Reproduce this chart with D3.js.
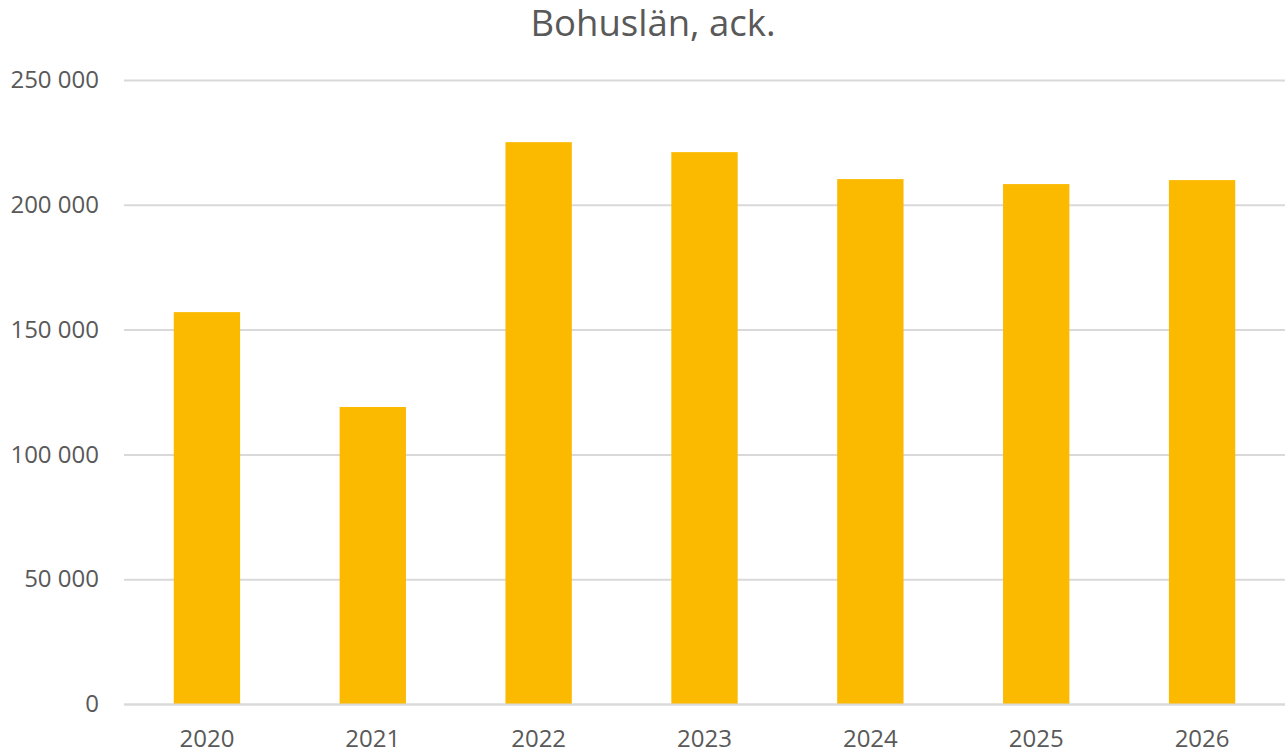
<!DOCTYPE html>
<html><head><meta charset="utf-8">
<script src="https://cdn.jsdelivr.net/npm/d3@7"></script>
<style>html,body{margin:0;padding:0;background:#fff;}svg{display:block;font-family:"Open Sans",sans-serif;}</style>
</head><body>
<svg id="c" width="1285" height="752"></svg>
<script>
const title = "Bohuslän, ack.";
const categories = ["2020","2021","2022","2023","2024","2025","2026"];
const values = [157000, 119000, 225100, 221100, 210300, 208300, 209900];
const yTicks = [0, 50000, 100000, 150000, 200000, 250000];

const svg = d3.select("#c");
const m = {left:124, right:1285, top:80, bottom:704};
const x = d3.scaleBand().domain(categories).range([m.left, m.right]).paddingInner(0.6).paddingOuter(0.3);
const y = d3.scaleLinear().domain([0, 250000]).range([m.bottom, m.top]);
const fmt = v => d3.format(",")(v).replace(/,/g, " ");

const yAxis = d3.axisLeft(y).tickValues(yTicks).tickSize(-(m.right - m.left)).tickPadding(25).tickFormat(fmt);
const gy = svg.append("g").attr("transform", `translate(${m.left},0)`).call(yAxis);
gy.select(".domain").remove();
gy.selectAll(".tick line").attr("stroke", "#d9d9d9").attr("stroke-width", 2);
gy.selectAll(".tick text").attr("fill", "#595959").attr("font-size", 24).attr("font-family", "Open Sans");

svg.append("g").selectAll("rect").data(values).join("rect")
  .attr("x", (d,i) => x(categories[i]))
  .attr("width", x.bandwidth())
  .attr("y", d => y(d))
  .attr("height", d => y(0) - y(d))
  .attr("fill", "#fbb900");

const xAxis = d3.axisBottom(x).tickSize(0).tickPadding(26);
const gx = svg.append("g").attr("transform", `translate(0,${m.bottom})`).call(xAxis);
gx.select(".domain").attr("stroke", "#d9d9d9").attr("stroke-width", 2);
gx.selectAll(".tick text").attr("fill", "#595959").attr("font-size", 24).attr("font-family", "Open Sans");

svg.append("text").attr("x", 653).attr("y", 36).attr("text-anchor", "middle")
  .attr("fill", "#595959").attr("font-size", 36.5).attr("font-family", "Open Sans").text(title);
</script>
</body></html>
